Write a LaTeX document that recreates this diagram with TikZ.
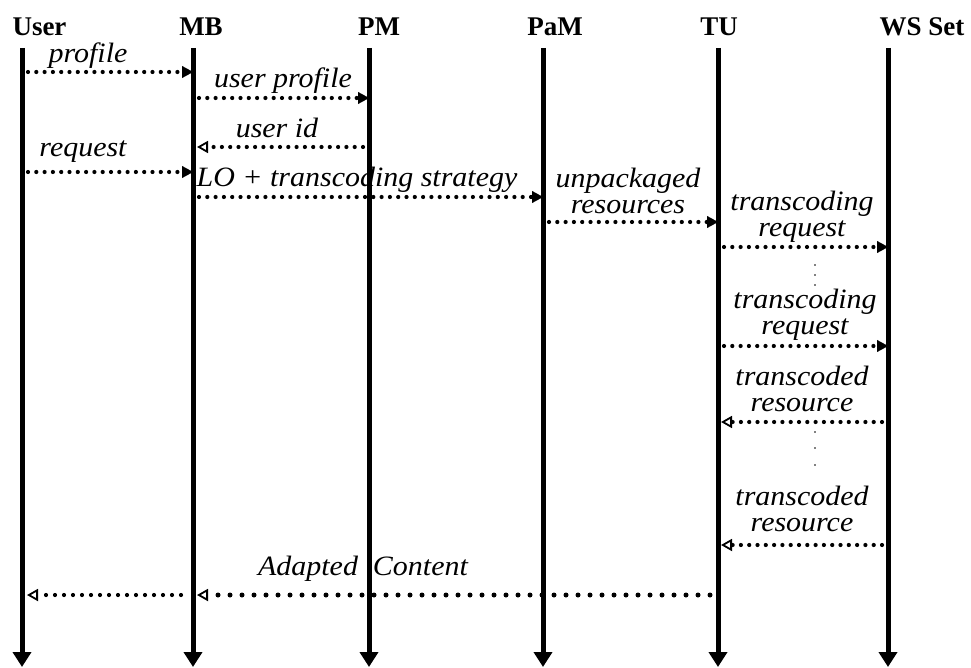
\documentclass[tikz,border=0pt]{standalone}
\usepackage{fontspec}
\setmainfont{Liberation Serif}
\usetikzlibrary{arrows.meta}

\tikzset{
  actor/.style={font=\fontsize{27}{27}\selectfont\bfseries, inner sep=0pt, anchor=base},
  lifeline/.style={line width=5pt, -{Triangle[length=15pt,width=18pt]}},
  msg/.style={font=\fontsize{28}{26}\selectfont\itshape, inner sep=0pt,
    text depth=0pt, anchor=south, align=center, xscale=1.07},
  call/.style={line width=4.2pt, line cap=round, dash pattern=on 0pt off 8.3pt,
    shorten <=6pt, -{Triangle[length=11pt,width=12pt,line width=0.1pt]}},
  reply/.style={line width=4.2pt, line cap=round, dash pattern=on 0pt off 8.3pt,
    shorten <=6pt, -{Triangle[open,length=11pt,width=12pt,line width=1.8pt]}},
  vdots/.style={circle, fill, inner sep=0pt, minimum size=1.8pt}
}

\begin{document}
\begin{tikzpicture}[x=1pt, y=-1pt]
    \useasboundingbox (0,0) rectangle (971,668);
    % actors
    \node[actor] (userlbl) at (39.5,36) {User};
    \node[actor] (mblbl) at (201,36) {MB};
    \node[actor] (pmlbl) at (379,36) {PM};
    \node[actor] (pamlbl) at (555,36) {PaM};
    \node[actor] (tulbl) at (719,36) {TU};
    \node[actor] (wslbl) at (922,36) {WS Set};
    % lifeline ends
    \coordinate (user) at (22,48);   \coordinate (userend) at (22,667);
    \coordinate (mb) at (193,48);    \coordinate (mbend) at (193,667);
    \coordinate (pm) at (369,48);    \coordinate (pmend) at (369,667);
    \coordinate (pam) at (543,48);   \coordinate (pamend) at (543,667);
    \coordinate (tu) at (718,48);    \coordinate (tuend) at (718,667);
    \coordinate (ws) at (888,48);    \coordinate (wsend) at (888,667);
    % message rows
    \coordinate (r1) at (0,72);
    \coordinate (r2) at (0,98);
    \coordinate (r3) at (0,147);
    \coordinate (r4) at (0,172);
    \coordinate (r5) at (0,197);
    \coordinate (r6) at (0,222);
    \coordinate (r7) at (0,247);
    \coordinate (r8) at (0,346);
    \coordinate (r9) at (0,422);
    \coordinate (r10) at (0,545);
    \coordinate (r11) at (0,595);

    % messages
    \draw[call] (user |- r1) -- (mb |- r1);
    \node[msg] (profile) at (88,63) {profile};
    \draw[call] (mb |- r2) -- (pm |- r2);
    \node[msg] (uprofile) at (283,88) {user profile};
    \draw[reply] (pm |- r3) -- ([xshift=4pt]mb |- r3);
    \node[msg] (userid) at (277,138) {user id};
    \draw[call] (user |- r4) -- (mb |- r4);
    \node[msg] (request) at (83,157) {request};
    \draw[call] (mb |- r5) -- (pam |- r5);
    \node[msg] (strategy) at (357,187) {LO + transcoding strategy};
    \draw[call] (pam |- r6) -- (tu |- r6);
    \node[msg] (unpack) at (628,214) {unpackaged\\resources};
    \draw[call] (tu |- r7) -- (ws |- r7);
    \node[msg] (treq1) at (802,237) {transcoding\\request};
    \node[vdots] (d1) at (815,265) {};
    \node[vdots] (d2) at (815,275) {};
    \node[vdots] (d3) at (815,285) {};
    \draw[call] (tu |- r8) -- (ws |- r8);
    \node[msg] (treq2) at (805,335) {transcoding\\request};
    \draw[reply] (ws |- r9) -- ([xshift=3pt]tu |- r9);
    \node[msg] (tres1) at (802,412) {transcoded\\resource};
    \node[vdots] (d4) at (815,432) {};
    \node[vdots] (d5) at (815,448) {};
    \node[vdots] (d6) at (815,465) {};
    \draw[reply] (ws |- r10) -- ([xshift=3pt]tu |- r10);
    \node[msg] (tres2) at (802,532) {transcoded\\resource};
    \draw[reply, line width=5pt, dash pattern=on 0pt off 12pt] ([xshift=-2pt]tu |- r11) -- ([xshift=4pt]mb |- r11);
    \draw[reply, dash pattern=on 0pt off 9pt, shorten <=12pt] (mb |- r11) -- ([xshift=5pt]user |- r11);
    \node[msg] (adapted) at (363,576) {Adapted\ \ Content};

    % lifelines
    \foreach \a in {user,mb,pm,pam,tu,ws}
        \draw[lifeline] (\a) -- (\a end);
\end{tikzpicture}
\end{document}
